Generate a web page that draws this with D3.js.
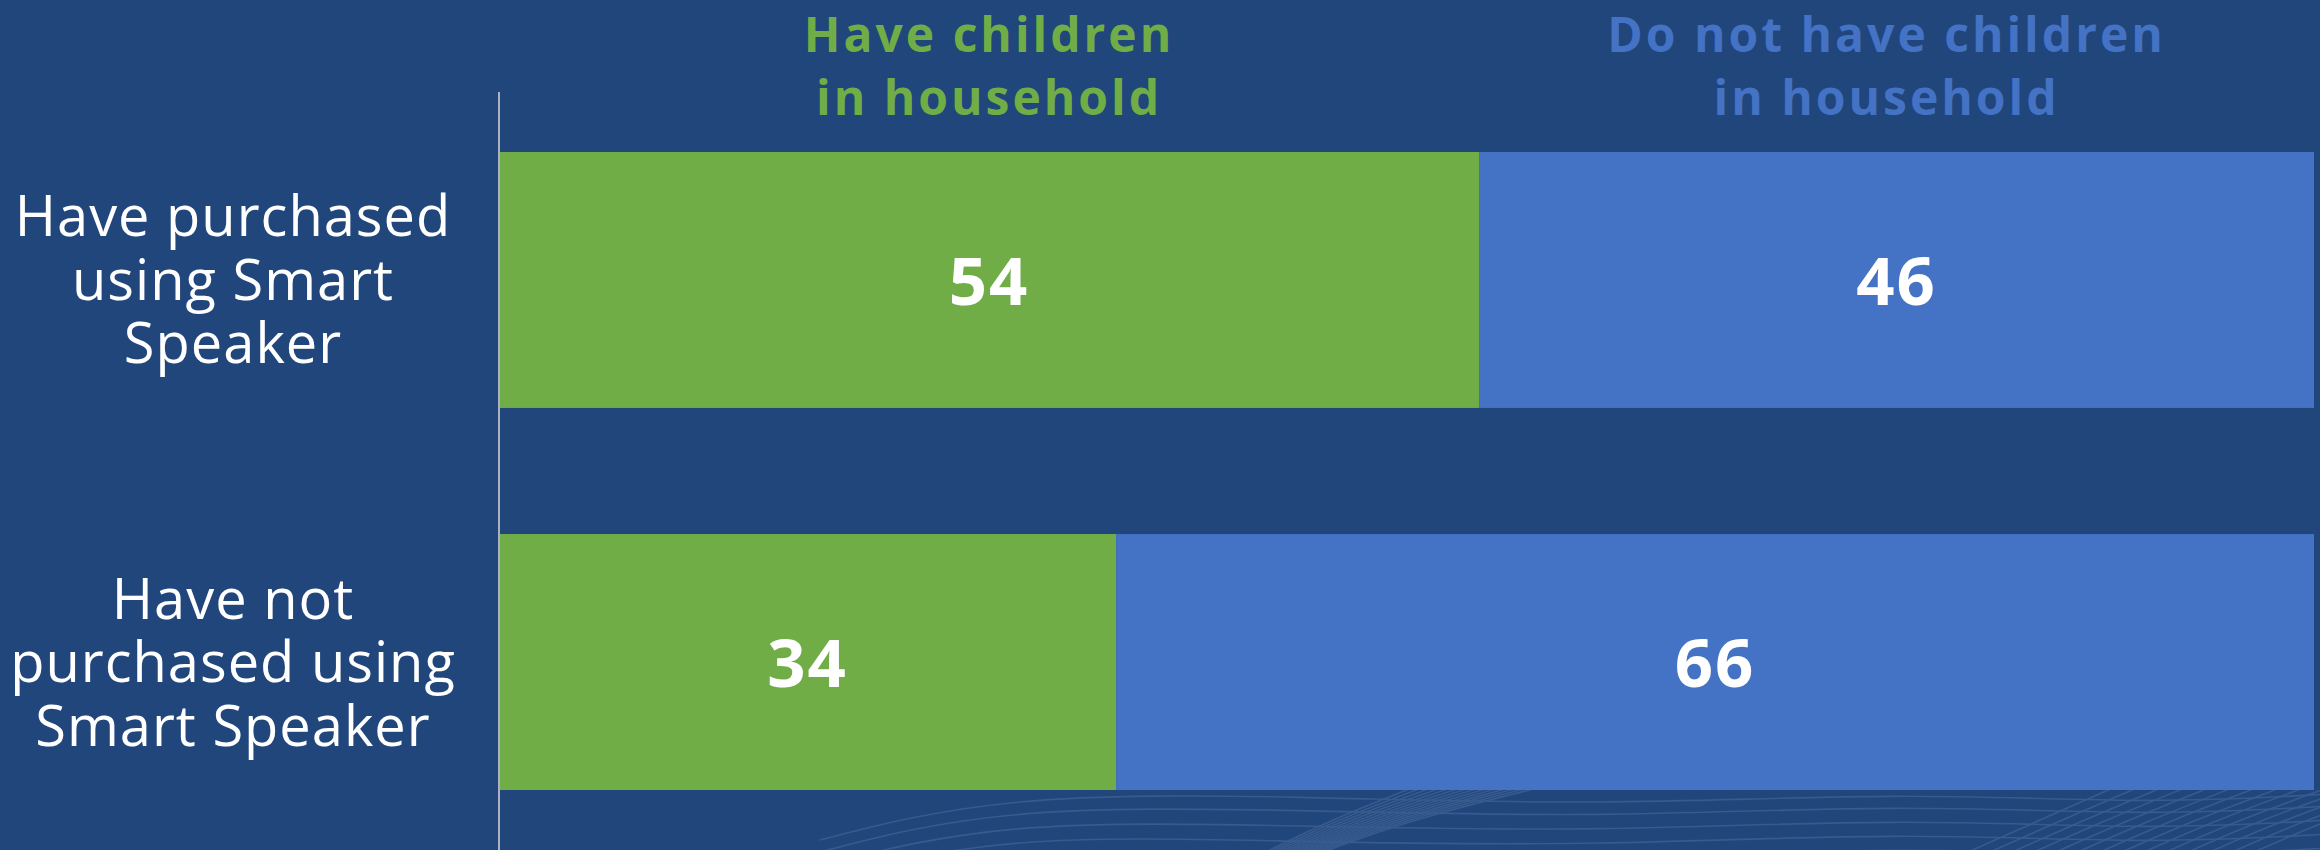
<!DOCTYPE html>
<html>
<head>
<meta charset="utf-8">
<script src="https://cdn.jsdelivr.net/npm/d3@7"></script>
<style>
  html, body { margin: 0; padding: 0; background: #20467c; }
  svg { display: block; }
</style>
</head>
<body>
<svg id="chart" width="2320" height="850"></svg>
<script>
// Survey categories (rows) and the two household segments (stack order)
const categories = [
  ["Have purchased", "using Smart", "Speaker"],
  ["Have not", "purchased using", "Smart Speaker"]
];
const categoryKeys = ["purchased", "notPurchased"];
const segments = ["withChildren", "withoutChildren"];
const segmentLabels = [
  ["Have children", "in household"],
  ["Do not have children", "in household"]
];
const withChildren = [54, 34];
const withoutChildren = [46, 66];

const W = 2320, H = 850;
const bg = "#20467c";
const colors = { withChildren: "#70ad47", withoutChildren: "#4472c4" };
const font = "'Open Sans', sans-serif";

const svg = d3.select("#chart");
svg.append("rect").attr("width", W).attr("height", H).attr("fill", bg);

// Faint decorative wave lines along the bottom edge
const deco = svg.append("g").attr("opacity", 0.14).attr("fill", "none")
  .attr("stroke", "#c9d4f0").attr("stroke-width", 1.6);
const waveLine = d3.line().curve(d3.curveBasis);
const waveRows = [800, 812, 826, 840, 854];
waveRows.forEach((y0, i) => {
  deco.append("path").attr("d", waveLine([
    [820, y0 + 40], [1000, y0 - 6], [1300, y0 - 4 + i * 2], [1600, y0 + 6],
    [1900, y0 - 8], [2150, y0 + 4], [2330, y0 - 6]
  ]));
});
d3.range(14).forEach(i => {
  deco.append("path").attr("d", waveLine([
    [1250 + i * 4, 860], [1330 + i * 6, 820], [1420 + i * 10, 785]
  ]));
  deco.append("path").attr("d", waveLine([
    [1950 + i * 22, 860], [2040 + i * 22, 820], [2120 + i * 24, 785]
  ]));
});

// Scales
const margin = { left: 499, right: 6 };
const x = d3.scaleLinear().domain([0, 100]).range([margin.left, W - margin.right]);
const y = d3.scaleBand().domain(categoryKeys).range([75.6, 866.4])
  .paddingInner(0.33).paddingOuter(0.2);

const table = categoryKeys.map((k, i) => ({
  key: k, withChildren: withChildren[i], withoutChildren: withoutChildren[i]
}));
const stacked = d3.stack().keys(segments)(table);

// Stacked bars
const layers = svg.append("g").selectAll("g").data(stacked).join("g")
  .attr("fill", d => colors[d.key]);
layers.selectAll("rect").data(d => d).join("rect")
  .attr("x", d => x(d[0]))
  .attr("y", d => y(d.data.key))
  .attr("width", d => x(d[1]) - x(d[0]))
  .attr("height", y.bandwidth());

// Value labels centred in each segment
layers.selectAll("text").data(d => d.map(v => Object.assign({ seg: d.key }, v))).join("text")
  .attr("x", d => (x(d[0]) + x(d[1])) / 2)
  .attr("y", d => y(d.data.key) + y.bandwidth() / 2 + 25)
  .attr("text-anchor", "middle")
  .attr("fill", "#ffffff")
  .attr("font-family", font)
  .attr("font-weight", 700)
  .attr("font-size", 67)
  .attr("letter-spacing", 2)
  .text(d => d.data[d.seg]);

// Vertical category axis line
const yAxis = d3.axisLeft(y).tickSize(0).tickFormat("");
svg.append("g").attr("transform", `translate(${margin.left},0)`).call(yAxis)
  .call(g => g.select(".domain").attr("d", `M0,92V${H}`)
    .attr("stroke", "#a9b1c2").attr("stroke-width", 2));

// Category labels (three lines each) to the left of the axis
const catG = svg.append("g");
categoryKeys.forEach((k, i) => {
  const cy = y(k) + y.bandwidth() / 2;
  const t = catG.append("text")
    .attr("text-anchor", "middle")
    .attr("fill", "#ffffff")
    .attr("font-family", font)
    .attr("font-size", 56)
    .attr("letter-spacing", 1);
  categories[i].forEach((line, j) => {
    t.append("tspan").attr("x", 233).attr("y", cy + 20 + (j - 1) * 63.5).text(line);
  });
});

// Segment headers above the first bar
const first = stacked.map(s => s[0]);
segments.forEach((s, i) => {
  const seg = first[i];
  const t = svg.append("text")
    .attr("text-anchor", "middle")
    .attr("fill", colors[s])
    .attr("font-family", font)
    .attr("font-weight", 700)
    .attr("font-size", 48)
    .attr("letter-spacing", 3);
  segmentLabels[i].forEach((line, j) => {
    t.append("tspan").attr("x", (x(seg[0]) + x(seg[1])) / 2 - (i === 1 ? 10 : 0))
      .attr("y", 52 + j * 63).text(line);
  });
});
</script>
</body>
</html>
